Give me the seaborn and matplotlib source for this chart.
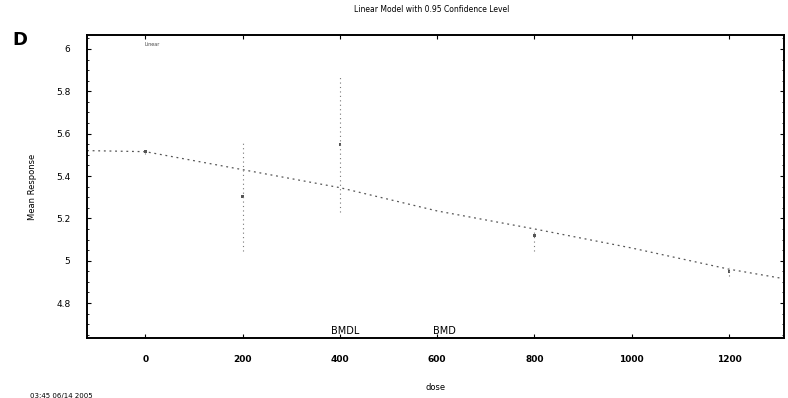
import numpy as np
import pandas as pd
import matplotlib
matplotlib.use("Agg")
import matplotlib.pyplot as plt
import seaborn as sns

# data
dose_groups = [0, 200, 400, 800, 1200]
mean_resp = [5.515, 5.305, 5.55, 5.12, 4.95]
ci_low = [5.505, 5.045, 5.23, 5.045, 4.93]
ci_high = [5.525, 5.565, 5.87, 5.15, 4.97]

model_dose = [-120, 0, 200, 400, 600, 800, 1000, 1200, 1313]
model_resp = [5.52, 5.515, 5.43, 5.345, 5.235, 5.15, 5.06, 4.96, 4.915]

bmdl, bmd = 410, 615
x_ticks = [0, 200, 400, 600, 800, 1000, 1200]
y_ticks = [4.8, 5.0, 5.2, 5.4, 5.6, 5.8, 6.0]
y_tick_labels = ["4.8", "5", "5.2", "5.4", "5.6", "5.8", "6"]

sns.set_theme(style="white")
plt.rcParams["font.family"] = ["DejaVu Sans"]
plt.rcParams["text.color"] = "black"
plt.rcParams["axes.labelcolor"] = "black"
plt.rcParams["xtick.color"] = "black"
plt.rcParams["ytick.color"] = "black"

fig = plt.figure(figsize=(7.88, 3.98), dpi=100)
ax = fig.add_axes([87/788, 1-338/398, (784-87)/788, (338-35)/398])

df_model = pd.DataFrame({"dose": model_dose, "resp": model_resp})
sns.lineplot(data=df_model, x="dose", y="resp", ax=ax, color="#555555",
             lw=0.9, linestyle=(0, (1.5, 3)))

ax.vlines(dose_groups, ci_low, ci_high, colors="#777777", lw=0.8,
          linestyles=(0, (1, 3)))
df_pts = pd.DataFrame({"dose": dose_groups, "resp": mean_resp})
sns.scatterplot(data=df_pts, x="dose", y="resp", ax=ax, color="#555555",
                s=4, marker="s", edgecolor="none")

ax.set_xlim(-120, 1313)
ax.set_ylim(4.635, 6.066)
ax.set_xticks(x_ticks)
ax.set_xticklabels([str(t) for t in x_ticks], fontsize=6.5, fontweight="bold")
ax.set_yticks(y_ticks)
ax.set_yticklabels(y_tick_labels, fontsize=6.5)
ax.minorticks_on()
ax.tick_params(axis="both", which="major", direction="in", length=3, width=0.8,
               top=True, right=True, bottom=True, left=True, pad=12)
ax.tick_params(axis="both", which="minor", direction="in", length=1.5, width=0.6,
               top=False, right=True, bottom=False, left=True)
for sp in ax.spines.values():
    sp.set_color("black")
    sp.set_linewidth(1.4)

ax.set_xlabel("dose", fontsize=6, labelpad=14)
ax.set_ylabel("Mean Response", fontsize=6, labelpad=14)

ax.text(bmdl, 4.645, "BMDL", fontsize=7, ha="center", va="bottom")
ax.text(bmd, 4.645, "BMD", fontsize=7, ha="center", va="bottom")
ax.text(15, 6.02, "Linear", fontsize=3.5, ha="center", va="center", color="#444444")

fig.text(432/788, 1-9/398, "Linear Model with 0.95 Confidence Level",
         fontsize=5.5, ha="center", va="center")
fig.text(20/788, 1-40/398, "D", fontsize=13, fontweight="bold",
         ha="center", va="center")
fig.text(30/788, 1-396/398, "03:45 06/14 2005", fontsize=5,
         ha="left", va="center")

fig.savefig("out.png", dpi=100)
